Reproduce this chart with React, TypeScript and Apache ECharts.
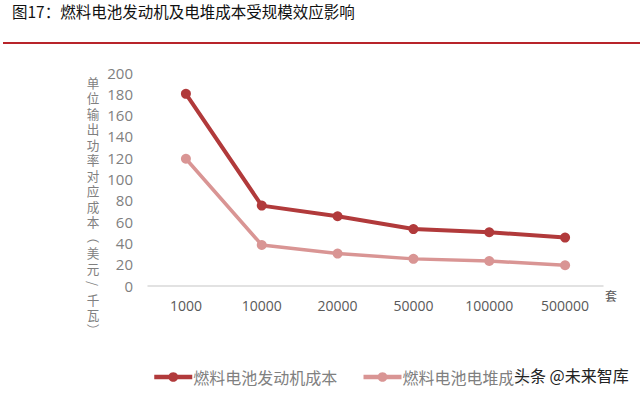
import React, { useEffect, useRef } from "react";
import * as echarts from "echarts";

const categories = ["1000", "10000", "20000", "50000", "100000", "500000"];
const engineCost = [180, 75, 65, 53, 50, 45];
const stackCost = [119, 38, 30, 25, 23, 19];
const seriesNames = ["燃料电池发动机成本", "燃料电池电堆成本"];
const titleText = "图17：燃料电池发动机及电堆成本受规模效应影响";
const yAxisTitle = "单位输出功率对应成本（美元/千瓦）";
const xAxisUnit = "套";
const watermark = "头条 @未来智库";

const FONT = '"Noto Sans CJK SC", "Noto Sans", sans-serif';

export default function App() {
  const ref = useRef<HTMLDivElement>(null);
  useEffect(() => {
    if (!ref.current) return;
    const chart = echarts.init(ref.current, undefined, { renderer: "svg" });
    const rotated = new Set(["（", "）", "/"]);
    const titleChars = yAxisTitle.split("").map((ch, i) => ({
      type: "text",
      x: 93,
      y: 82 + i * 15.5,
      rotation: rotated.has(ch) ? -Math.PI / 2 : 0,
      style: {
        text: ch,
        fill: "#808080",
        fontSize: 10.5,
        align: "center",
        verticalAlign: "middle",
        fontFamily: FONT,
        textShadowColor: "#808080",
        textShadowBlur: 0,
        textShadowOffsetX: 0,
      },
      scaleX: 1.2,
      scaleY: 1.2,
    }));
    chart.setOption({
      animation: false,
      backgroundColor: "#ffffff",
      textStyle: { fontFamily: FONT },
      grid: { left: 148, right: 37, top: 72.5, bottom: 109.5, containLabel: false },
      legend: {
        left: 152,
        top: 369,
        padding: 0,
        itemWidth: 38,
        itemHeight: 12,
        itemGap: 24,
        lineStyle: { width: 4.5 },
        textStyle: { color: "#808080", fontSize: 16, fontFamily: FONT, padding: [0, 0, 0, -4] },
        data: seriesNames,
      },
      xAxis: {
        type: "category",
        data: categories,
        boundaryGap: true,
        name: xAxisUnit,
        nameLocation: "end",
        nameGap: 2,
        nameTextStyle: { color: "#595959", fontSize: 12, verticalAlign: "top", padding: [4, 0, 0, 0] },
        axisLine: { show: true, lineStyle: { color: "#d9d9d9", width: 1.5 } },
        axisTick: { show: false },
        axisLabel: { color: "#595959", fontSize: 14, margin: 13, fontFamily: "Open Sans, sans-serif" },
      },
      yAxis: {
        type: "value",
        min: 0,
        max: 200,
        interval: 20,
        axisLine: { show: false },
        axisTick: { show: false },
        splitLine: { show: false },
        axisLabel: { color: "#7f7f7f", fontSize: 15, margin: 15, fontFamily: "Open Sans, sans-serif" },
      },
      graphic: [
        {
          type: "text",
          left: 12,
          top: 3,
          style: { text: titleText, fill: "#111111", fontSize: 15.5, fontFamily: FONT },
        },
        {
          type: "rect",
          shape: { x: 3, y: 42, width: 637, height: 2 },
          style: { fill: "#b8242a" },
        },
        ...titleChars,
        {
          type: "text",
          left: 512,
          top: 366,
          z: 100,
          style: {
            text: watermark,
            fill: "#222222",
            fontSize: 16,
            fontFamily: FONT,
            backgroundColor: "rgba(255,255,255,0.85)",
            padding: [1, 2, 1, 2],
          },
        },
      ],
      series: [
        {
          name: seriesNames[0],
          type: "line",
          data: engineCost,
          symbol: "circle",
          symbolSize: 10,
          lineStyle: { color: "#b13a3b", width: 4 },
          itemStyle: { color: "#b13a3b" },
        },
        {
          name: seriesNames[1],
          type: "line",
          data: stackCost,
          symbol: "circle",
          symbolSize: 10,
          lineStyle: { color: "#d99594", width: 3.5 },
          itemStyle: { color: "#d99594" },
        },
      ],
    });
    return () => chart.dispose();
  }, []);
  return (
    <div
      ref={ref}
      style={{ position: "fixed", left: 0, top: 0, width: 640, height: 395 }}
    />
  );
}
